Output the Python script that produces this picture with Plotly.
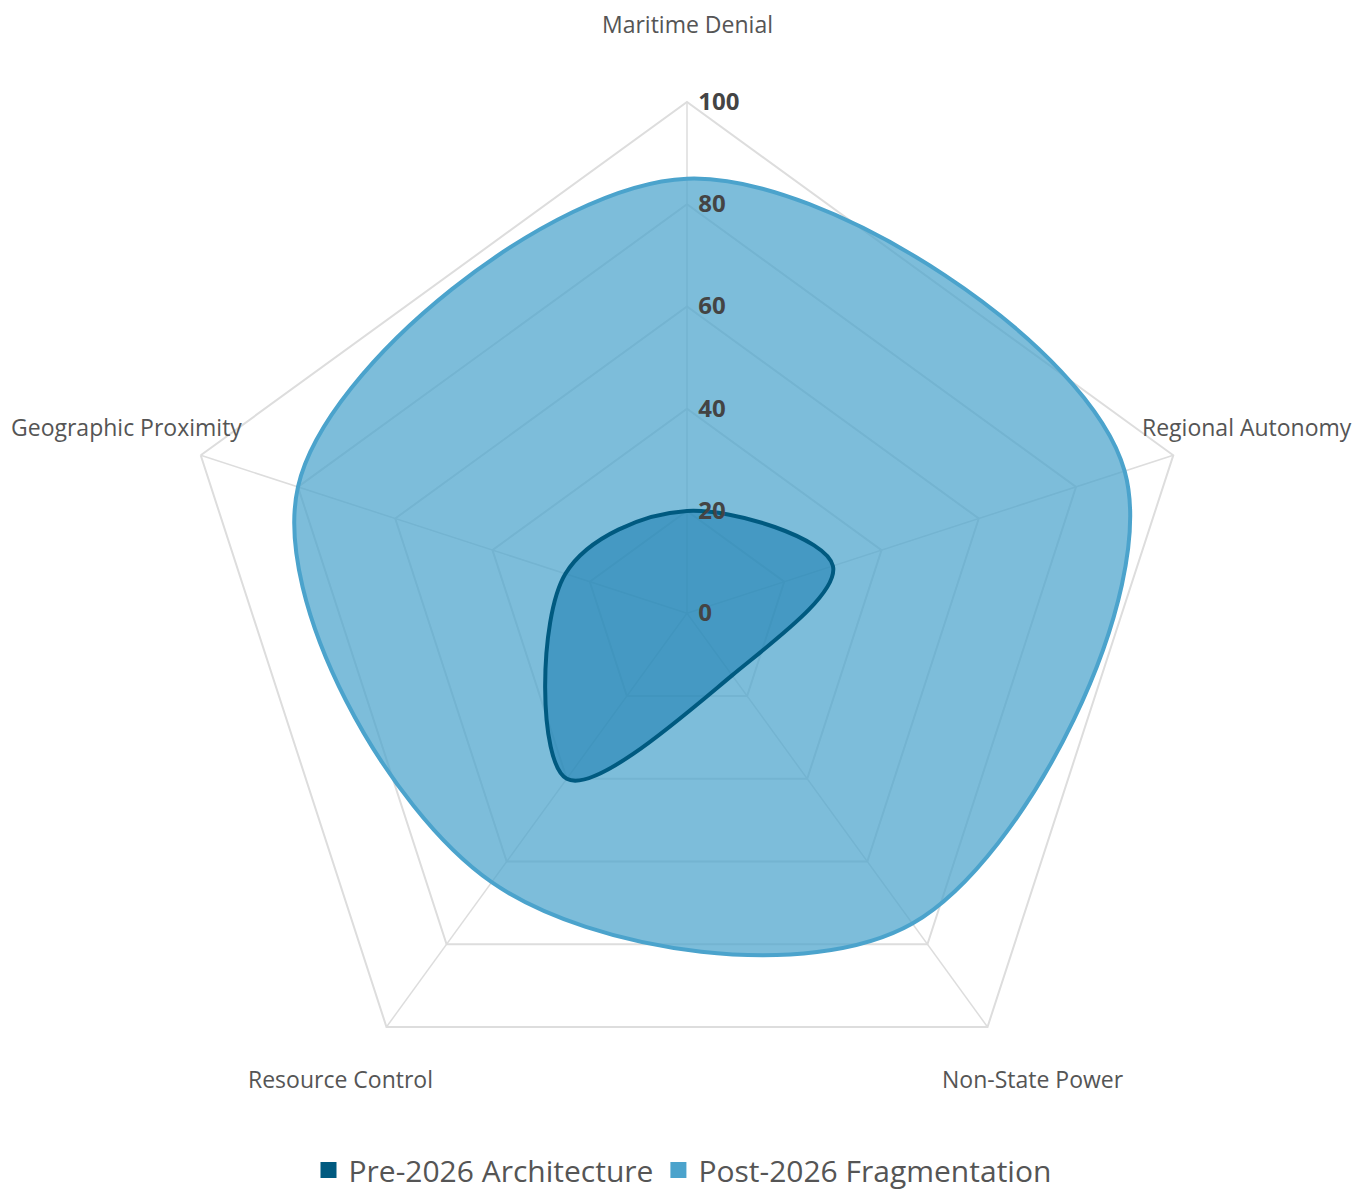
import math
import plotly.graph_objects as go

categories = ["Maritime Denial", "Regional Autonomy", "Non-State Power", "Resource Control", "Geographic Proximity"]
pre_2026 = [20, 30, 15, 40, 25]
post_2026 = [85, 90, 75, 65, 80]
radial_ticks = [0, 20, 40, 60, 80, 100]
series_names = ["Pre-2026 Architecture", "Post-2026 Fragmentation"]
series_colors = ["#005A80", "#4BA3CC"]

W, H = 1365, 1196
CX, CY, R = 687, 613, 511   # centre and radius (px) of the 100 ring (target)
HEADROOM = 1.1              # extra radial room so smoothed curves are not clipped
RMAX = max(radial_ticks)
# plotly shrinks the subplot slightly; compensate
R_DOM = R * 511 / 506 * HEADROOM
CY_DOM = CY + 6

def closed(vals):
    return list(vals) + [vals[0]]

fig = go.Figure()
# spokes from centre to each axis vertex
for c in categories:
    fig.add_trace(go.Scatterpolar(
        r=[0, RMAX], theta=[c, c], mode="lines", showlegend=False, hoverinfo="skip",
        line=dict(color="#DDDDDD", width=1.5),
    ))
fig.add_trace(go.Scatterpolar(
    r=closed(post_2026), theta=closed(categories), name=series_names[1],
    mode="lines", fill="toself", showlegend=False,
    line=dict(color=series_colors[1], width=4, shape="spline", smoothing=1.0),
    fillcolor="rgba(75,163,204,0.72)", hoverinfo="r+theta+name",
))
fig.add_trace(go.Scatterpolar(
    r=closed(pre_2026), theta=closed(categories), name=series_names[0],
    mode="lines", fill="toself", showlegend=False,
    line=dict(color=series_colors[0], width=4, shape="spline", smoothing=1.0),
    fillcolor="rgba(13,118,171,0.5)", hoverinfo="r+theta+name",
))
# legend entries (square swatches)
for name, col in zip(series_names, series_colors):
    fig.add_trace(go.Scatterpolar(
        r=[None], theta=[categories[0]], name=name, mode="markers",
        marker=dict(symbol="square", size=24, color=col), hoverinfo="skip",
    ))

annotations = []
for i, c in enumerate(categories):
    a = math.radians(90 - i * 360 / len(categories))
    d = R + 78
    x = (CX + d * math.cos(a)) / W
    y = 1 - (CY - d * math.sin(a)) / H
    annotations.append(dict(x=x, y=y, xref="paper", yref="paper", text=c, showarrow=False,
                            xanchor="center", yanchor="middle",
                            font=dict(family="Open Sans, sans-serif", size=23, color="#555555")))

fig.update_layout(
    width=W, height=H,
    margin=dict(l=0, r=0, t=0, b=0),
    paper_bgcolor="white",
    polar=dict(
        bgcolor="white",
        gridshape="linear",
        domain=dict(x=[(CX - R_DOM) / W, (CX + R_DOM) / W],
                    y=[1 - (CY_DOM + R_DOM) / H, 1 - (CY_DOM - R_DOM) / H]),
        angularaxis=dict(rotation=90, direction="clockwise", showticklabels=False, ticks="",
                         showgrid=False, showline=False),
        radialaxis=dict(range=[0, RMAX * HEADROOM], tickvals=radial_ticks, angle=90, tickangle=90,
                        showline=False, ticks="outside", ticklen=6, tickcolor="rgba(0,0,0,0)",
                        gridcolor="#DDDDDD", gridwidth=1.5,
                        tickfont=dict(family="Open Sans, sans-serif", size=24, color="#444444",
                                      weight="bold")),
    ),
    showlegend=True,
    legend=dict(orientation="h", x=0.5, xanchor="center", y=15 / H, yanchor="middle",
                font=dict(family="Open Sans, sans-serif", size=30, color="#555555"),
                itemwidth=30),
    annotations=annotations,
)

fig.write_html("out.html")
